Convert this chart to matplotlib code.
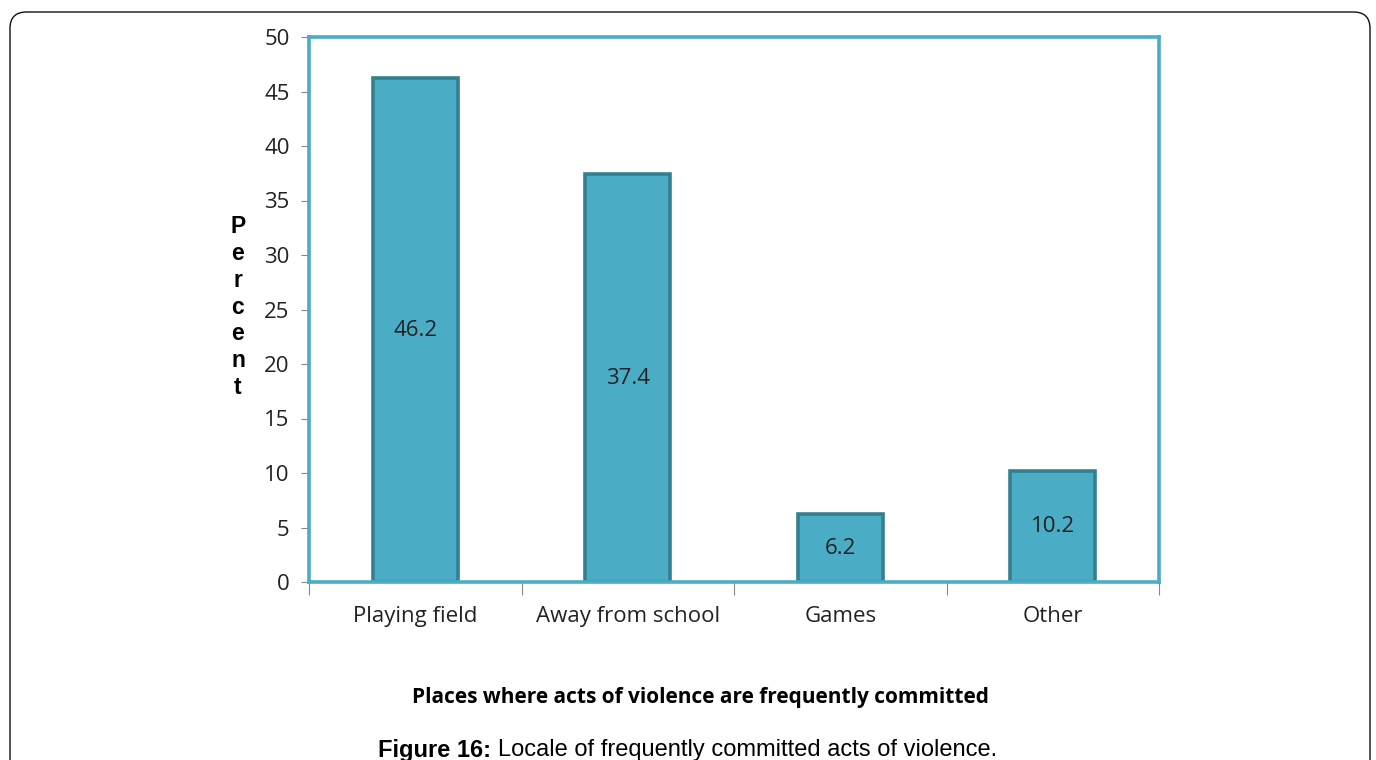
import matplotlib
matplotlib.use("Agg")
import matplotlib.pyplot as plt
from matplotlib.patches import FancyBboxPatch

places = ["Playing field", "Away from school", "Games", "Other"]
percent = [46.2, 37.4, 6.2, 10.2]
yticks = [0, 5, 10, 15, 20, 25, 30, 35, 40, 45, 50]

fill = "#4BACC6"
edge = "#33808F"
txt = "#222222"

fig = plt.figure(figsize=(13.76, 7.6), dpi=100)

# rounded frame around the whole figure
frame = FancyBboxPatch((10 / 1376, -0.05), 1360 / 1376, 1 - 12 / 760 + 0.05,
                       boxstyle="round,pad=0,rounding_size=0.012",
                       transform=fig.transFigure, fc="none", ec="#111111",
                       lw=1.0, mutation_aspect=1376 / 760)
fig.patches.append(frame)

ax = fig.add_axes([309 / 1376, 178 / 760, 850 / 1376, 545 / 760])
x = range(len(places))
bars = ax.bar(x, percent, width=0.40, color=fill, edgecolor=edge, linewidth=2.6)

for b, v in zip(bars, percent):
    ax.text(b.get_x() + b.get_width() / 2, v / 2, f"{v}", ha="center",
            va="center", fontsize=16, color=txt, family="Open Sans")

ax.set_xlim(-0.5, 3.5)
ax.set_ylim(0, 50)
ax.set_yticks(yticks)
ax.set_yticklabels([str(t) for t in yticks], fontsize=16, color=txt,
                   family="Open Sans")
ax.tick_params(axis="y", length=6, color="#888888", pad=8)

# tick marks between categories, labels under each bar
ax.set_xticks([-0.5, 0.5, 1.5, 2.5, 3.5])
ax.set_xticklabels([])
ax.tick_params(axis="x", which="major", length=9, color="#888888")
ax.set_xticks(list(x), minor=True)
ax.set_xticklabels(places, minor=True, fontsize=16, color=txt, family="Open Sans")
ax.tick_params(axis="x", which="minor", length=0, pad=17)

for s in ax.spines.values():
    s.set_color(fill)
    s.set_linewidth(2.6)

fig.text(238 / 1376, 1 - 307 / 760, "P\ne\nr\nc\ne\nn\nt", ha="center",
         va="center", fontsize=16.5, fontweight="bold", family="Liberation Sans",
         linespacing=1.22, color="black")

fig.text(700 / 1376, 1 - 698 / 760, "Places where acts of violence are frequently committed",
         ha="center", va="center", fontsize=15, fontweight="bold",
         family="Open Sans", color="black")

# caption: bold "Figure 16:" followed by the plain text
cap = fig.text(378 / 1376, 1 - 750 / 760, "Figure 16:", ha="left", va="center",
               fontsize=17, fontweight="bold", family="Liberation Sans")
ax.annotate("Locale of frequently committed acts of violence.", xy=(1, 0.5),
            xycoords=cap, xytext=(5, 0), textcoords="offset points",
            ha="left", va="center", fontsize=17, family="Liberation Sans",
            annotation_clip=False)

fig.savefig("out.png", dpi=100)
